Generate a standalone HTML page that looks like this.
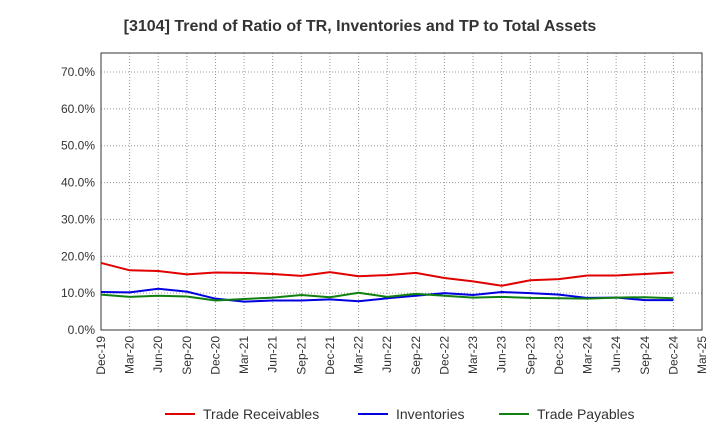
<!DOCTYPE html>
<html><head><meta charset="utf-8"><style>
body{margin:0;background:#fff;font-family:"Liberation Sans",sans-serif}
svg text{font-family:"Liberation Sans",sans-serif}
</style></head><body>
<svg id="c" width="720" height="440"></svg>
<script>
const categories=["Dec-19","Mar-20","Jun-20","Sep-20","Dec-20","Mar-21","Jun-21","Sep-21","Dec-21","Mar-22","Jun-22","Sep-22","Dec-22","Mar-23","Jun-23","Sep-23","Dec-23","Mar-24","Jun-24","Sep-24","Dec-24","Mar-25"];
const tradeReceivables=[18.2,16.2,16.0,15.1,15.6,15.5,15.2,14.7,15.7,14.6,14.9,15.5,14.1,13.2,12.0,13.5,13.8,14.8,14.8,15.2,15.6];
const inventories=[10.3,10.2,11.2,10.4,8.5,7.7,8.0,8.0,8.3,7.8,8.6,9.3,10.0,9.5,10.3,10.0,9.6,8.7,8.8,8.1,8.1];
const tradePayables=[9.6,9.0,9.3,9.1,8.0,8.4,8.8,9.5,8.9,10.1,9.0,9.8,9.3,8.8,9.0,8.7,8.6,8.5,8.8,8.9,8.6];
const yTicks=[0,10,20,30,40,50,60,70];
const ns="http://www.w3.org/2000/svg",s=document.getElementById('c');
const L=101,R=702,T=53,B=330;
const x=i=>L+(R-L)*i/(categories.length-1);
const y=v=>B-(B-72)*v/70;
function el(t,a,p){const e=document.createElementNS(ns,t);for(const k in a)e.setAttribute(k,a[k]);(p||s).appendChild(e);return e;}
const t=el('text',{x:360,y:31,'text-anchor':'middle','font-size':16,'font-weight':'bold',fill:'#333'});

t.textContent="[3104]  Trend of Ratio of TR, Inventories and TP to Total Assets";
categories.forEach((c,i)=>{
 const g=el('line',{x1:x(i),x2:x(i),y1:T,y2:B,stroke:'#999','stroke-dasharray':'1,2'});
 
 const lb=el('text',{transform:`translate(${x(i)+4},${B+6}) rotate(-90)`,'text-anchor':'end','font-size':12,fill:'#333'});
 
 lb.textContent=c;
});
yTicks.forEach(v=>{
 const g=el('line',{x1:L,x2:R,y1:y(v),y2:y(v),stroke:'#999','stroke-dasharray':'1,2'});
 
 const lb=el('text',{x:L-6,y:y(v)+4,'text-anchor':'end','font-size':12,fill:'#333'});
 
 lb.textContent=v.toFixed(1)+'%';
});
const fr=el('rect',{x:L,y:T,width:R-L,height:B-T,fill:'none',stroke:'#333'});

const series=[["trade-receivables",tradeReceivables,"#e00000","Trade Receivables",165],["inventories",inventories,"#0000e0","Inventories",358],["trade-payables",tradePayables,"#108010","Trade Payables",499]];
series.forEach(([n,d,c,lab,lx])=>{
 const p=el('polyline',{points:d.map((v,i)=>x(i)+','+y(v)).join(' '),fill:'none',stroke:c,'stroke-width':2});
 
 const ll=el('line',{x1:lx,x2:lx+30,y1:414,y2:414,stroke:c,'stroke-width':2});
 
 const lt=el('text',{x:lx+38,y:419,'font-size':14,fill:'#333'});
 
 lt.textContent=lab;
});
</script>
</body></html>
